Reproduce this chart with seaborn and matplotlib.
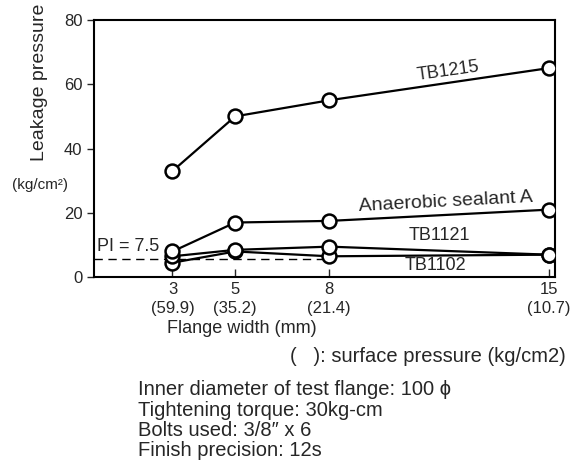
import pandas as pd
import matplotlib
matplotlib.use('Agg')
import matplotlib.pyplot as plt
import seaborn as sns

# Flange width (mm) and surface pressure (kg/cm2) shown in parentheses
flange_width = [3, 5, 8, 15]
surface_pressure = ['59.9', '35.2', '21.4', '10.7']

# Leakage pressure (kg/cm2) per sealant
tb1215 = [33, 50, 55, 65]
anaerobic_a = [8, 17, 17.5, 21]
tb1121 = [6.5, 8.5, 9.5, 7]
tb1102 = [4.5, 8, 6.5, 7]

pl_value = 5.8
pl_label = 'PI = 7.5'

notes = [
    'Inner diameter of test flange: 100 \u03d5',
    'Tightening torque: 30kg-cm',
    'Bolts used: 3/8\u2033 x 6',
    'Finish precision: 12s',
]

sns.set_theme(style='white')
plt.rcParams['font.family'] = ['Liberation Sans', 'DejaVu Sans']

df = pd.DataFrame({
    'width': flange_width * 4,
    'pressure': tb1215 + anaerobic_a + tb1121 + tb1102,
    'series': (['TB1215'] * 4 + ['Anaerobic sealant A'] * 4
               + ['TB1121'] * 4 + ['TB1102'] * 4),
})

fig = plt.figure(figsize=(5.88, 4.62), dpi=100)
ax = fig.add_axes([0.160, 0.400, 0.784, 0.557])

# dashed reference line (drawn first, under the markers)
ax.plot([0.5, 8], [pl_value, pl_value], color='black', linestyle='--',
        linewidth=1.0, dashes=(6, 4), zorder=1)

for name in ['TB1102', 'TB1121', 'Anaerobic sealant A', 'TB1215']:
    sub = df[df['series'] == name]
    sns.lineplot(data=sub, x='width', y='pressure', ax=ax, color='black',
                 linewidth=1.6, marker='o', markersize=10,
                 markerfacecolor='white', markeredgecolor='black',
                 markeredgewidth=1.8, legend=False, zorder=3)

ax.set_xlim(0.5, 15.2)
ax.set_ylim(0, 80)
ax.set_yticks([0, 20, 40, 60, 80])
ax.set_xticks(flange_width)
ax.set_xticklabels([f'{w}\n({p})' for w, p in zip(flange_width, surface_pressure)],
                   fontsize=12, linespacing=1.3)
ax.tick_params(axis='y', direction='out', length=5, width=1, labelsize=12,
               left=True)
ax.tick_params(axis='x', direction='in', length=6, width=1, bottom=True)
for s in ax.spines.values():
    s.set_color('black')
    s.set_linewidth(1.5)

ax.set_xlabel('')
ax.set_ylabel('')

# series labels
ax.text(11.8, 64, 'TB1215', fontsize=13, rotation=8, ha='center', va='center')
ax.text(11.7, 23.5, 'Anaerobic sealant A', fontsize=14, rotation=3,
        ha='center', va='center')
ax.text(11.5, 13, 'TB1121', fontsize=13, ha='center', va='center')
ax.text(11.4, 3.6, 'TB1102', fontsize=13, ha='center', va='center')
ax.text(0.6, 9.5, pl_label, fontsize=13, ha='left', va='center')

# axis titles and notes
fig.text(0.068, 0.822, 'Leakage pressure', rotation=90, fontsize=14,
         ha='center', va='center')
fig.text(0.020, 0.600, '(kg/cm\u00b2)', fontsize=11, ha='left', va='center')
fig.text(0.412, 0.290, 'Flange width (mm)', fontsize=13, ha='center', va='center')
fig.text(0.493, 0.228, '(   ): surface pressure (kg/cm2)', fontsize=14.5,
         ha='left', va='center')
for i, line in enumerate(notes):
    fig.text(0.235, 0.156 - i * 0.0435, line, fontsize=14.5, ha='left',
             va='center')

plt.savefig('out.png', dpi=100)
